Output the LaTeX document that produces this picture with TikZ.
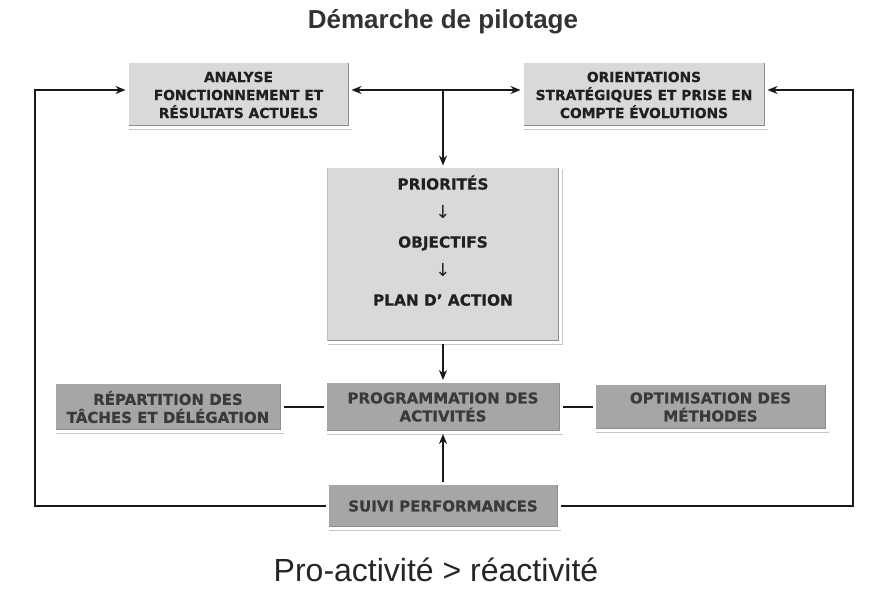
\documentclass[tikz,border=0pt]{standalone}
\usepackage{fontspec}
\setmainfont{DejaVu Sans}[BoldFeatures={FakeBold=0.6}]
\newfontfamily\arialfont{Liberation Sans}
\usetikzlibrary{shadows,arrows.meta,calc}
\definecolor{boxlight}{HTML}{D9D9D9}
\definecolor{boxdark}{HTML}{A6A6A6}
\definecolor{textdark}{HTML}{202020}
\definecolor{textmid}{HTML}{3A3A3A}
\tikzset{
  box/.style={draw=white, line width=3pt, align=center, inner sep=0pt,
    drop shadow={shadow xshift=2pt, shadow yshift=-2.5pt, opacity=0.3, fill=black!70},
    path picture={\draw[black!45,line width=5pt]
      (path picture bounding box.south west) -- (path picture bounding box.south east)
      -- (path picture bounding box.north east);
      \draw[black!25,line width=4pt]
      (path picture bounding box.south west) -- (path picture bounding box.north west);}},
  topbox/.style={box, fill=boxlight, text=textdark, font=\bfseries\fontsize{13.8}{18}\selectfont},
  lowbox/.style={box, fill=boxdark, text=textmid, font=\bfseries\fontsize{15}{18}\selectfont},
  conn/.style={line width=2pt, black!90},
  arr/.style={conn, -{Stealth[length=10pt,width=8pt]}}
}
\begin{document}
\begin{tikzpicture}[x=1pt,y=-1pt]
\fill[white] (0,0) rectangle (886,593);
\useasboundingbox (0,0) rectangle (886,593);
\node[font=\arialfont\bfseries\fontsize{26}{30}\selectfont, text=black!80] (title) at (443,22) {Démarche de pilotage};
\node[topbox, minimum width=223pt, minimum height=66pt] (ana) at (238.5,95) {ANALYSE\\FONCTIONNEMENT ET\\RÉSULTATS ACTUELS};
\node[topbox, minimum width=244pt, minimum height=66pt] (ori) at (644,95) {ORIENTATIONS\\STRATÉGIQUES ET PRISE EN\\COMPTE ÉVOLUTIONS};
\node[topbox, minimum width=235pt, minimum height=176pt, font=\bfseries\fontsize{15.3}{29}\selectfont] (prio) at (443,255)
  {PRIORITÉS\\{\mdseries\fontsize{18}{29}\selectfont ↓}\\OBJECTIFS\\{\mdseries\fontsize{18}{29}\selectfont ↓}\\PLAN D’ ACTION\\\mbox{}};
\node[lowbox, minimum width=228pt, minimum height=48pt] (rep) at (168,407) {RÉPARTITION DES\\TÂCHES ET DÉLÉGATION};
\node[lowbox, minimum width=236pt, minimum height=51pt] (prog) at (443,407) {PROGRAMMATION DES\\ACTIVITÉS};
\node[lowbox, minimum width=233pt, minimum height=46pt] (opt) at (710.5,407) {OPTIMISATION DES\\MÉTHODES};
\node[lowbox, minimum width=232pt, minimum height=45pt] (suivi) at (443,506) {SUIVI PERFORMANCES};
\node[font=\arialfont\fontsize{32}{36}\selectfont, text=black!85] (motto) at (436,570) {Pro-activité > réactivité};
\coordinate (top) at (443,90);
\coordinate (L) at (35,506);
\coordinate (R) at (853,506);
\draw[conn, {Stealth[length=10pt,width=8pt]}-{Stealth[length=10pt,width=8pt]}] (ana.east |- top) -- (ori.west |- top);
\draw[arr] (top) -- (prio.north);
\draw[arr] (prio.south) -- (prog.north);
\draw[conn] (rep.east) -- (prog.west);
\draw[conn] (prog.east) -- (opt.west);
\draw[arr] (suivi.north) -- (prog.south);
\draw[arr] (suivi.west) -- (L) |- (ana.west |- top);
\draw[arr] (suivi.east) -- (R) |- (ori.east |- top);
\end{tikzpicture}
\end{document}
